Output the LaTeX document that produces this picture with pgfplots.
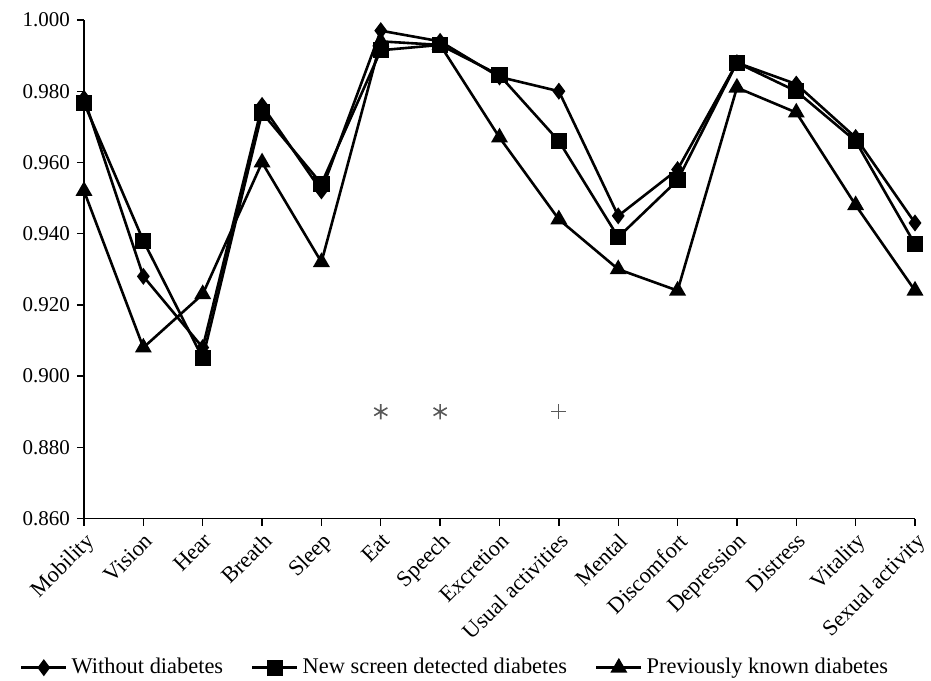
\documentclass[border=0pt]{standalone}
\usepackage{pgfplots}
\pgfplotsset{compat=1.18}
\usepackage{fontspec}
\setmainfont{Liberation Serif}
\begin{document}
\begin{tikzpicture}
\begin{axis}[
  name=ax,
  scale only axis,
  width=415.5pt, height=249.25pt,
  xmin=0, xmax=14, ymin=0.86, ymax=1.0,
  axis lines*=left,
  axis line style={line width=0.65pt},
  tick style={line width=0.65pt, black},
  tick align=outside,
  major tick length=3.5pt,
  xtick={0,...,14},
  xticklabels={Mobility,Vision,Hear,Breath,Sleep,Eat,Speech,Excretion,Usual activities,Mental,Discomfort,Depression,Distress,Vitality,Sexual activity},
  x tick label style={rotate=45, anchor=north east, inner sep=2pt, font=\fontsize{11.2}{13}\selectfont},
  ytick={0.86,0.88,...,1.001},
  y tick label style={font=\fontsize{10.5}{12}\selectfont},
  /pgf/number format/assume math mode=true,
  yticklabel style={/pgf/number format/.cd, fixed, fixed zerofill, precision=3},
  scaled y ticks=false,
  clip=false,
  legend columns=3,
  legend style={at={(0.4477,-0.2993)}, anchor=center, draw=none, font=\fontsize{11.2}{13}\selectfont,
    /tikz/every even column/.append style={column sep=12pt}},
  legend image code/.code={\draw[#1] (0pt,0pt) -- (22.5pt,0pt); \draw[#1, mark repeat=1] plot coordinates {(11.25pt,0pt)};},
]
\addplot[black, line width=1.3pt, mark=diamond*, mark size=3.2pt, mark options={solid}] coordinates {
(0,0.978) (1,0.928) (2,0.908) (3,0.976) (4,0.952) (5,0.997) (6,0.994) (7,0.984) (8,0.980) (9,0.945) (10,0.958) (11,0.988) (12,0.982) (13,0.967) (14,0.943)};
\addlegendentry{Without diabetes}
\addplot[black, line width=1.3pt, mark=square*, mark size=3.4pt, mark options={solid}] coordinates {
(0,0.9767) (1,0.938) (2,0.905) (3,0.974) (4,0.954) (5,0.9915) (6,0.993) (7,0.9845) (8,0.966) (9,0.939) (10,0.955) (11,0.988) (12,0.980) (13,0.966) (14,0.937)};
\addlegendentry{New screen detected diabetes}
\addplot[black, line width=1.3pt, mark=triangle*, mark size=3.6pt, mark options={solid}] coordinates {
(0,0.952) (1,0.908) (2,0.923) (3,0.960) (4,0.932) (5,0.994) (6,0.993) (7,0.967) (8,0.944) (9,0.930) (10,0.924) (11,0.981) (12,0.974) (13,0.948) (14,0.924)};
\addlegendentry{Previously known diabetes}
\addplot[only marks, gray!70!black, mark=asterisk, mark size=3.8pt, line width=0.8pt, forget plot] coordinates {(5,0.890) (6,0.890)};
\addplot[only marks, gray!70!black, mark=+, mark size=3.8pt, line width=0.6pt, forget plot] coordinates {(8,0.890)};
\end{axis}
\pgfresetboundingbox
\path ([shift={(-42pt,-80.75pt)}]ax.south west) rectangle ([shift={(8pt,10pt)}]ax.north east);
\end{tikzpicture}
\end{document}
